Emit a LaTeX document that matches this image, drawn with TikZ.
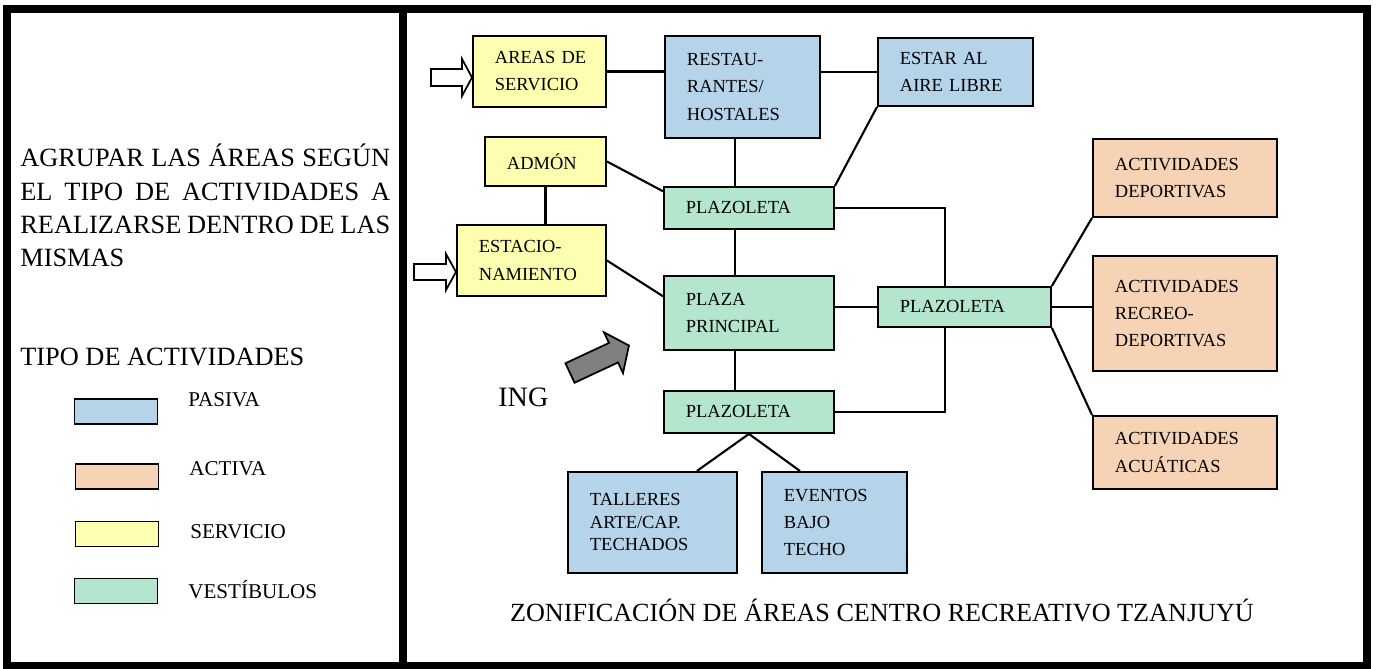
\documentclass[tikz,border=0pt]{standalone}
\usepackage{fontspec}
\setmainfont{Liberation Serif}
\usetikzlibrary{calc}
\definecolor{pasiva}{RGB}{181,212,234}
\definecolor{activa}{RGB}{246,211,181}
\definecolor{servicio}{RGB}{254,254,176}
\definecolor{vestibulo}{RGB}{179,230,205}
\definecolor{ingreso}{RGB}{128,128,128}

\begin{document}
\begin{tikzpicture}[x=0.02cm,y=-0.02cm,
  area/.style={draw,line width=1.1pt,anchor=north west,inner xsep=0.44cm,inner ysep=2pt,
    align=left,font=\fontsize{10.5}{15.4}\selectfont},
  link/.style={line width=1.2pt},
  swatch/.style={draw,line width=1.1pt,minimum width=1.66cm,minimum height=0.5cm,inner sep=0},
  legendtxt/.style={anchor=base west,inner sep=0,font=\fontsize{12}{14}\selectfont},
  hollow/.style={draw,line width=1pt,fill=white}]
  \useasboundingbox (0,0) rectangle (1377,669);
  \fill[white] (0,0) rectangle (1377,669);
  % frame
  \draw[line width=4.5pt] (7,9) rectangle (1367,666);
  \draw[line width=4.5pt] (403,9) -- (403,666);

  % left panel
  \node[anchor=north west,inner sep=0,text width=7.4cm,align=justify,
    font=\fontsize{15}{18.8}\selectfont] (intro) at (20,144)
    {AGRUPAR~LAS~ÁREAS~SEGÚN\linebreak EL~TIPO~DE~ACTIVIDADES~A\linebreak
     REALIZARSE~DENTRO~DE~LAS\linebreak MISMAS};
  \node[anchor=base west,inner sep=0,font=\fontsize{15}{18}\selectfont] (tipo) at (20,365) {TIPO DE ACTIVIDADES};
  \node[swatch,fill=pasiva] (swP) at (116,411.5) {};
  \node[swatch,fill=activa] (swA) at (117,476.5) {};
  \node[swatch,fill=servicio] (swS) at (117,534) {};
  \node[swatch,fill=vestibulo] (swV) at (116,591) {};
  \node[legendtxt] (lbP) at (188,406) {PASIVA};
  \node[legendtxt] (lbA) at (189,475) {ACTIVA};
  \node[legendtxt] (lbS) at (190,538) {SERVICIO};
  \node[legendtxt] (lbV) at (188,598) {VESTÍBULOS};

  % right panel
  \node[area,fill=servicio,text width=1.78cm,minimum height=1.42cm] (areas) at (472,35) {AREAS~DE\\SERVICIO};
  \node[area,fill=pasiva,text width=2.22cm,minimum height=2.04cm] (rest) at (664,35) {RESTAU-\\RANTES/\\HOSTALES};
  \node[area,fill=pasiva,text width=2.22cm,minimum height=1.36cm] (estar) at (877,37) {ESTAR~AL\\AIRE~LIBRE};
  \node[area,fill=servicio,text width=1.54cm,minimum height=0.98cm] (admon) at (484,136) {ADMÓN};
  \node[area,fill=vestibulo,text width=2.52cm,minimum height=0.84cm] (plzA) at (663,186) {PLAZOLETA};
  \node[area,fill=servicio,text width=2.10cm,minimum height=1.42cm] (estac) at (456,224) {ESTACIO-\\NAMIENTO};
  \node[area,fill=vestibulo,text width=2.52cm,minimum height=1.48cm] (plaza) at (663,275) {PLAZA\\PRINCIPAL};
  \node[area,fill=vestibulo,text width=2.52cm,minimum height=0.84cm] (plzB) at (663,390) {PLAZOLETA};
  \node[area,fill=vestibulo,text width=2.58cm,minimum height=0.80cm] (plzC) at (877,286) {PLAZOLETA};
  \node[area,fill=activa,text width=2.80cm,minimum height=1.56cm] (dep) at (1092,138) {ACTIVIDADES\\DEPORTIVAS};
  \node[area,fill=activa,text width=2.80cm,minimum height=2.30cm] (recreo) at (1092,255) {ACTIVIDADES\\RECREO-\\DEPORTIVAS};
  \node[area,fill=activa,text width=2.80cm,minimum height=1.46cm] (acua) at (1092,415) {ACTIVIDADES\\ACUÁTICAS};
  \node[area,fill=pasiva,text width=2.50cm,minimum height=2.02cm,font=\fontsize{10.5}{12.8}\selectfont] (tall) at (567,471) {TALLERES\\ARTE/CAP.\\TECHADOS};
  \node[area,fill=pasiva,text width=2.02cm,minimum height=2.02cm] (even) at (761,471) {EVENTOS\\BAJO\\TECHO};

  \node[anchor=base west,inner sep=0,font=\fontsize{16}{19}\selectfont] (ing) at (498,406) {ING};
  \node[anchor=base,inner sep=0,font=\fontsize{14.9}{18}\selectfont] (titulo) at (882,621)
    {ZONIFICACIÓN DE ÁREAS CENTRO RECREATIVO TZANJUYÚ};

  % entrance arrows
  \draw[hollow,shift={(areas.west)}] (-41,-2.5) -- (-10,-2.5) -- (-10,-12.5) -- (0,6)
    -- (-10,24.5) -- (-10,14.5) -- (-41,14.5) -- cycle;
  \draw[hollow,shift={(estac.west)}] (-42,3.5) -- (-10,3.5) -- (-10,-6.5) -- (0,11.5)
    -- (-10,29.5) -- (-10,19.5) -- (-42,19.5) -- cycle;
  \draw[line width=1pt,fill=ingreso,shift={(570,373)},rotate=25] (0,-10.75) -- (48,-10.75)
    -- (48,-22.5) -- (65,0) -- (48,22.5) -- (48,10.75) -- (0,10.75) -- cycle;

  % connectors
  \coordinate (spine) at (735,0);
  \coordinate (riser) at (945,0);
  \draw[link] (areas.east) -- (areas.east -| rest.west);
  \draw[link] (estar.west -| rest.east) -- (estar.west);
  \draw[link] (rest.south -| spine) -- (plzA.north -| spine);
  \draw[link] (plzA.south -| spine) -- (plaza.north -| spine);
  \draw[link] (plaza.south -| spine) -- (plzB.north -| spine);
  \draw[link] (admon.east) -- (plzA.169);
  \draw[link] (admon.south) -- (admon.south |- estac.north);
  \draw[link] (estac.east) -- (plaza.169);
  \draw[link] (plzA.north east) -- (estar.south west);
  \draw[link] (plzA.east) -| (plzC.north -| riser);
  \draw[link] (plzB.east) -| (plzC.south -| riser);
  \draw[link] (plzC.west -| plaza.east) -- (plzC.west);
  \draw[link] (plzC.east) -- (plzC.east -| recreo.west);
  \draw[link] (plzC.north east) -- (dep.south west);
  \draw[link] (plzC.south east) -- (acua.north west);
  \draw[link] (plzB.south) -- ($(tall.north east)+(-41,0)$);
  \draw[link] (plzB.south) -- ($(even.north west)+(39,0)$);
\end{tikzpicture}
\end{document}
